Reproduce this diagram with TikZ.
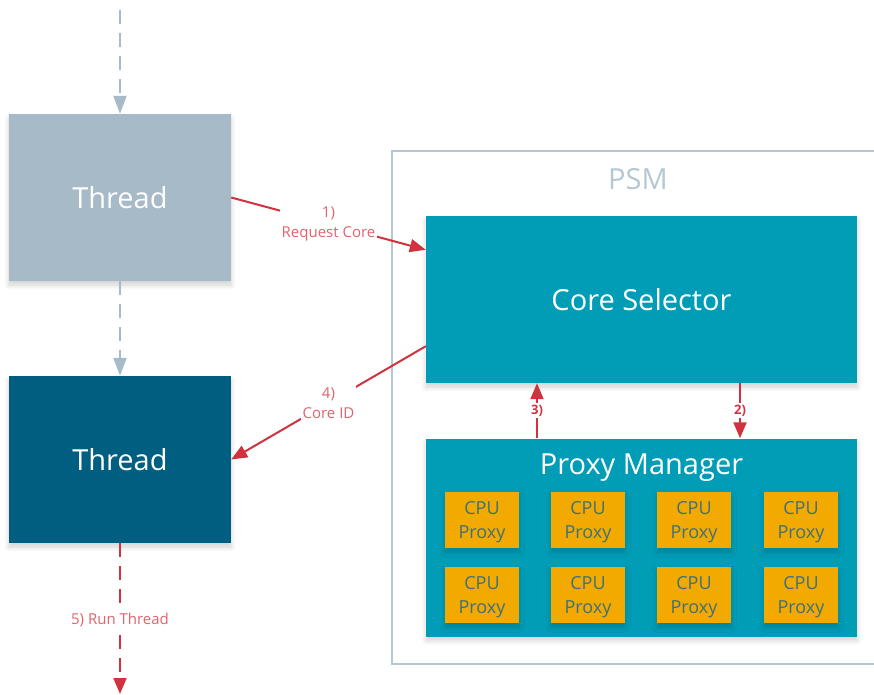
\documentclass[tikz,border=0pt]{standalone}
\usepackage{fontspec}
\setmainfont{Open Sans}
\usetikzlibrary{arrows.meta,shadows.blur,calc}

\definecolor{threadgrey}{HTML}{A6BAC7}
\definecolor{threaddark}{HTML}{005F80}
\definecolor{psmteal}{HTML}{019DB7}
\definecolor{proxygold}{HTML}{F2A900}
\definecolor{proxytext}{HTML}{40707A}
\definecolor{flowred}{HTML}{D0333F}
\definecolor{labelred}{HTML}{E0646C}
\definecolor{framegrey}{HTML}{B5C7D3}

\tikzset{
  boxshadow/.style={blur shadow={shadow xshift=0pt, shadow yshift=-4pt,
      shadow blur radius=5pt, shadow opacity=18, shadow blur steps=6}},
  bigbox/.style={rectangle, draw=none, minimum width=222pt, minimum height=167pt,
      inner sep=0pt, text=white, font=\fontsize{29}{32}\selectfont, boxshadow},
  tealbox/.style={rectangle, fill=psmteal, draw=none, inner sep=0pt,
      text=white, font=\fontsize{29}{32}\selectfont, boxshadow},
  proxybox/.style={rectangle, fill=proxygold, minimum width=74pt, minimum height=56pt,
      inner sep=0pt, align=center, text=proxytext, text depth=0pt,
      font=\fontsize{18}{24}\selectfont, boxshadow},
  greyflow/.style={draw=threadgrey, line width=2pt, dash pattern=on 14pt off 9pt,
      -{Triangle[length=18pt,width=13pt]}},
  redflow/.style={draw=flowred, line width=2pt,
      -{Triangle[length=16pt,width=13pt]}},
  reddash/.style={redflow, dash pattern=on 14pt off 9pt},
  steplabel/.style={fill=white, inner sep=2pt, align=center, text=labelred,
      font=\fontsize{15}{20}\selectfont},
  smalllabel/.style={fill=white, inner sep=2pt, text=flowred,
      font=\fontsize{13}{15}\selectfont\bfseries},
}

\begin{document}
\begin{tikzpicture}[x=1pt, y=-1pt]
  \useasboundingbox (0,0) rectangle (874,694);

  % PSM frame, running off the right edge
  \draw[framegrey, line width=1.6pt] (392,151) rectangle (920,664);
  \node[text=framegrey, font=\fontsize{29}{32}\selectfont] (psm) at (638,179) {PSM};

  % threads
  \node[bigbox, fill=threadgrey] (t1) at (120,197.5) {Thread};
  \node[bigbox, fill=threaddark] (t2) at (120,459.5) {Thread};

  % core selector and proxy manager
  \node[tealbox, minimum width=431pt, minimum height=167pt] (cs) at (641.5,299.5) {Core Selector};
  \node[tealbox, minimum width=431pt, minimum height=198pt] (pm) at (641.5,537.5) {};
  \node[text=white, font=\fontsize{29}{32}\selectfont] (pmlabel) at (641.5,468) {Proxy Manager};

  % CPU proxies
  \foreach \c/\x in {1/482,2/588,3/694,4/801}{
    \foreach \r/\y in {1/520,2/595}{
      \node[proxybox] (p\r\c) at (\x,\y) {CPU\\Proxy};
    }
  }

  % thread flow
  \coordinate (entry) at (120,10);
  \coordinate (exit) at (120,694);
  \draw[greyflow] (entry) -- (t1.north);
  \draw[greyflow] (t1.south) -- (t2.north);
  \draw[reddash] (t2.south) -- (exit)
    node[pos=0.51, steplabel] {5) Run Thread};

  % request / reply
  \draw[redflow] (t1.east) -- ([yshift=-34pt]cs.north west)
    node[midway, steplabel] {1)\\Request Core};
  \draw[redflow] ([yshift=37pt]cs.south west) -- (t2.east)
    node[midway, steplabel] {4)\\Core ID};

  % selector <-> proxy manager
  \draw[redflow] ([xshift=98.5pt]cs.south) -- ([xshift=98.5pt]pm.north)
    node[midway, smalllabel] {2)};
  \draw[redflow] ([xshift=-104.5pt]pm.north) -- ([xshift=-104.5pt]cs.south)
    node[midway, smalllabel] {3)};
\end{tikzpicture}
\end{document}
